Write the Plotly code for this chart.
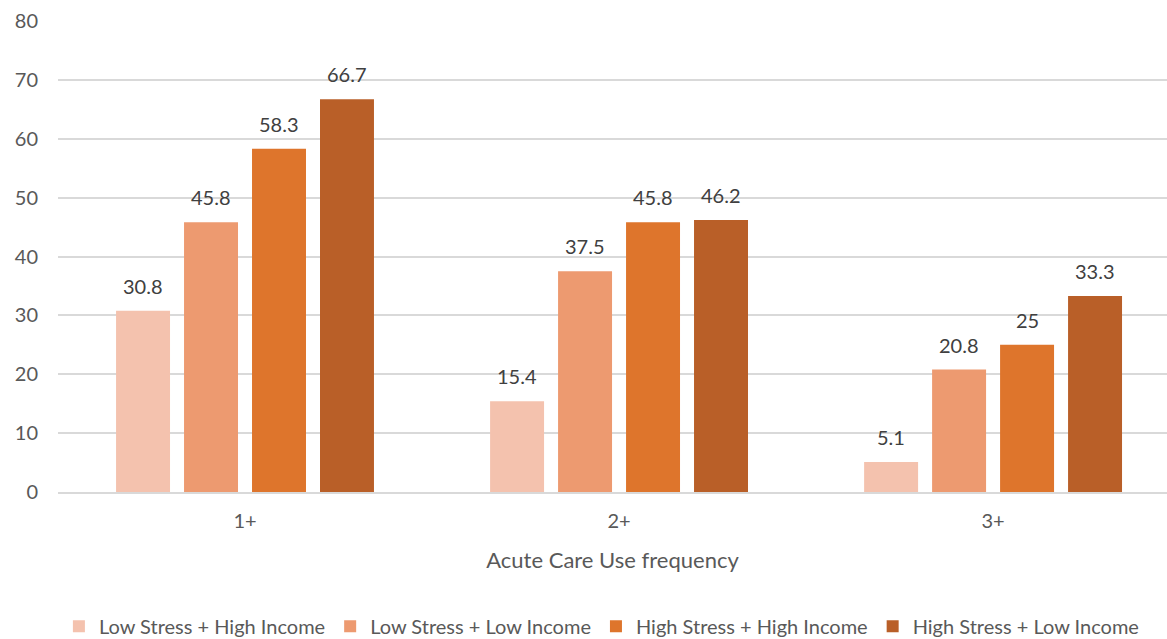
import plotly.graph_objects as go

categories = ["1+", "2+", "3+"]
series_names = [
    "Low Stress + High Income",
    "Low Stress + Low Income",
    "High Stress + High Income",
    "High Stress + Low Income",
]
low_stress_high_income = [30.8, 15.4, 5.1]
low_stress_low_income = [45.8, 37.5, 20.8]
high_stress_high_income = [58.3, 45.8, 25]
high_stress_low_income = [66.7, 46.2, 33.3]
y_ticks = [0, 10, 20, 30, 40, 50, 60, 70, 80]

series_values = [
    low_stress_high_income,
    low_stress_low_income,
    high_stress_high_income,
    high_stress_low_income,
]
colors = ["#F4C2AE", "#ED9A70", "#DE752C", "#B95F28"]

FONT = "Lato, 'Open Sans', sans-serif"
GREY = "#595959"
LABEL_GREY = "#404040"

# pixel spacing between neighbouring bars inside a group
BAR_STEP = 68

fig = go.Figure()
for name, vals, col in zip(series_names, series_values, colors):
    fig.add_trace(go.Bar(
        x=categories,
        y=vals,
        name=name,
        marker=dict(color=col, line=dict(width=0)),
    ))

# value labels above each bar
annotations = []
n = len(series_values)
for i, vals in enumerate(series_values):
    shift = (i - (n - 1) / 2) * BAR_STEP
    for cat, v in zip(categories, vals):
        annotations.append(dict(
            x=cat, y=v, xref="x", yref="y",
            text=f"{v:g}",
            showarrow=False,
            xshift=shift,
            yanchor="bottom",
            yshift=11,
            font=dict(family=FONT, size=20, color=LABEL_GREY),
        ))

fig.update_layout(
    width=1167,
    height=639,
    margin=dict(l=58, r=0, t=21, b=147, autoexpand=False),
    paper_bgcolor="white",
    plot_bgcolor="white",
    barmode="group",
    bargap=0.273,
    bargroupgap=0.206,
    font=dict(family=FONT, color=GREY, size=20),
    showlegend=True,
    annotations=annotations,
    legend=dict(
        orientation="h",
        x=0.49,
        xanchor="center",
        y=-0.2436,
        yanchor="top",
        font=dict(family=FONT, size=20, color=GREY),
        itemwidth=30,
        tracegroupgap=0,
        traceorder="normal",
    ),
    xaxis=dict(
        range=[-0.5, 2.465],
        automargin=False,
        showgrid=False,
        showline=True,
        linecolor="#D9D9D9",
        linewidth=1.5,
        ticks="",
        ticklabelstandoff=10,
        tickfont=dict(family=FONT, size=20, color=GREY),
        title=dict(text="Acute Care Use frequency",
                   font=dict(family=FONT, size=22, color=GREY),
                   standoff=22),
    ),
    yaxis=dict(
        range=[0, 80],
        automargin=False,
        tickvals=y_ticks,
        showgrid=True,
        gridcolor="#D9D9D9",
        gridwidth=1.5,
        zeroline=False,
        showline=False,
        ticks="",
        ticklabelstandoff=19,
        tickfont=dict(family=FONT, size=20, color=GREY),
    ),
)

fig.write_html("out.html")
